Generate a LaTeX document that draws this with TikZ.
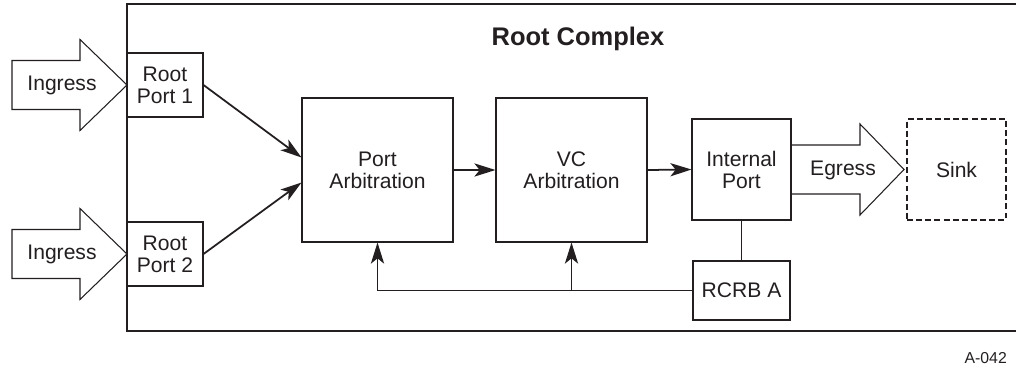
\documentclass[tikz,border=0pt]{standalone}
\usepackage{fontspec}
\setmainfont{Liberation Sans}
\usetikzlibrary{arrows.meta,calc}
\definecolor{ink}{HTML}{231F20}
\tikzset{
  blk/.style={draw=ink,line width=0.6pt,align=center,inner sep=0pt,text=ink,
    font=\fontsize{12}{12.5}\selectfont},
  arr/.style={draw=ink,line width=1pt,-{Stealth[length=12pt,width=7.5pt,inset=3pt]}},
  fb/.style={draw=ink,line width=1.1pt}
}
\begin{document}
\begin{tikzpicture}[x=0.02cm,y=-0.02cm]
  \useasboundingbox (0,0) rectangle (1016,368);
  % Root Complex
  \draw[ink,line width=0.6pt] (1016,4) -| (127,331) -- (1016,331);
  \node[ink,font=\bfseries\fontsize{14.5}{16}\selectfont] (ttl) at (578,39) {Root Complex};
  % Ingress
  \foreach \yc/\nm in {85/in1,254/in2}{
    \draw[ink,line width=0.6pt,fill=white] (12,\yc-24.5) -- (80,\yc-24.5) -- (80,\yc-45.5)
      -- (127,\yc) -- (80,\yc+45.5) -- (80,\yc+24.5) -- (12,\yc+24.5) -- cycle;
    \node[ink,font=\fontsize{12}{12.5}\selectfont] (\nm) at (62,\yc) {Ingress};
  }
  % Blöcke
  \node[blk,minimum width=1.52cm,minimum height=1.28cm] (rp1) at (165,85) {Root\\Port 1};
  \node[blk,minimum width=1.52cm,minimum height=1.28cm] (rp2) at (165,254) {Root\\Port 2};
  \node[blk,minimum width=3.02cm,minimum height=2.88cm] (pa) at (377.5,170) {Port\\Arbitration};
  \node[blk,minimum width=3.02cm,minimum height=2.88cm] (vc) at (571.5,170) {VC\\Arbitration};
  \node[blk,minimum width=1.98cm,minimum height=2.02cm] (ip) at (741.5,169.5) {Internal\\Port};
  \node[blk,minimum width=1.94cm,minimum height=1.18cm] (rcrb) at (741.5,290.5) {RCRB A};
  \node[blk,line width=1.2pt,dash pattern=on 3.4pt off 1.8pt,
    minimum width=1.98cm,minimum height=2.02cm] (sink) at (956.5,169.5) {Sink};
  % Egress
  \draw[ink,line width=0.6pt] (791,145) -- (860,145) -- (860,124) -- (904,169.5)
    -- (860,215) -- (860,194) -- (791,194);
  \node[ink,font=\fontsize{12}{12.5}\selectfont] (eg) at (843,170) {Egress};
  % Pfeile
  \draw[arr] (rp1.east) -- ([yshift=0.25cm]pa.west);
  \draw[arr] (rp2.east) -- ([yshift=-0.25cm]pa.west);
  \draw[arr] (pa.east) -- (vc.west);
  \draw[arr] (vc.east) -- (ip.west);
  \draw[ink,line width=0.6pt] (ip.south) -- (rcrb.north);
  % RCRB Rückführung
  \draw[fb,-{Stealth[length=12pt,width=7.5pt,inset=3pt]}] (rcrb.west) -| (pa.south);
  \draw[fb,-{Stealth[length=12pt,width=7.5pt,inset=3pt]}] (vc.south |- rcrb.west) -- (vc.south);
  % Nummer
  \node[ink,anchor=east,font=\fontsize{9}{11}\selectfont] (fig) at (1013,358) {A-042};
\end{tikzpicture}
\end{document}
